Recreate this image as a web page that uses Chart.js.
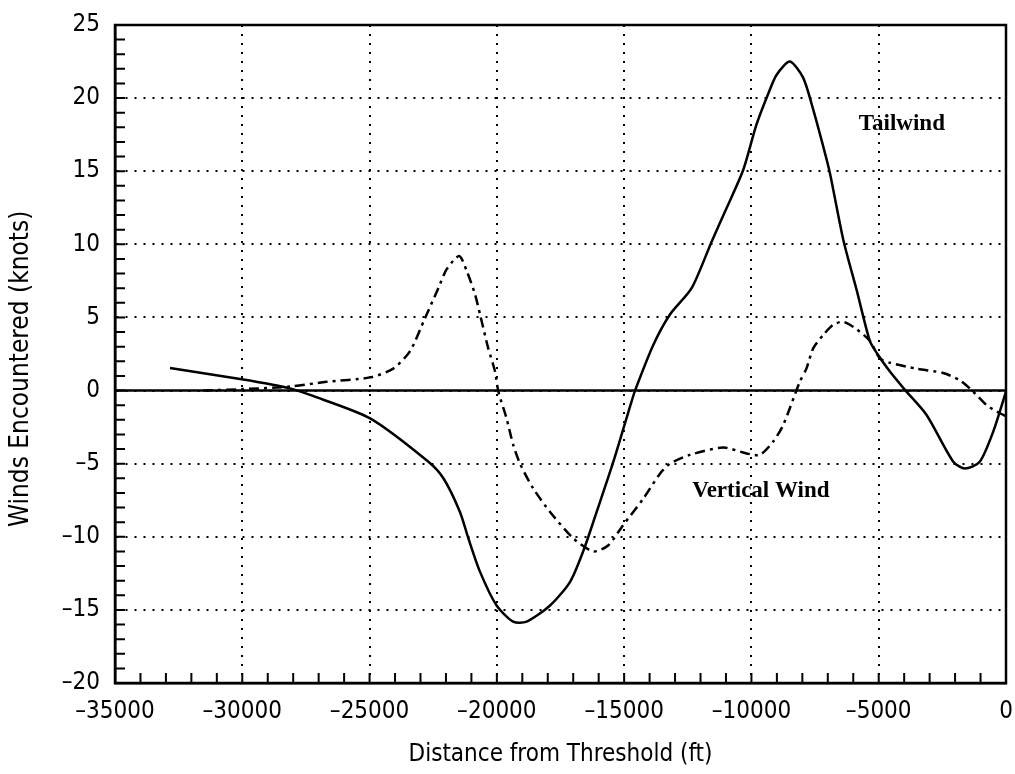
<!DOCTYPE html>
<html>
<head>
<meta charset="utf-8">
<script src="https://cdn.jsdelivr.net/npm/chart.js@4"></script>
<style>
  html, body { margin: 0; padding: 0; background: #fff; }
</style>
</head>
<body>
<canvas id="winds" width="1015" height="774"></canvas>
<script>
// distance from threshold (ft) and winds (knots)
const tailX = [-32840, -29960, -28130, -27340, -24980, -22700, -22100, -21450, -21120, -20660,
  -20010, -19360, -18830, -17910, -17130, -16610, -16080, -15430, -14710, -14540,
  -13860, -13200, -12350, -11560, -10970, -10320, -9800, -9340, -9010, -8490,
  -7970, -7570, -7180, -6920, -6390, -5870, -5350, -5030, -4560, -3970,
  -3120, -2070, -1610, -1030, -500, 0];
const tailY = [1.55, 0.75, 0.15, -0.3, -1.9, -4.85, -6.0, -8.3, -10.1, -12.4,
  -14.7, -15.8, -15.8, -14.7, -13.1, -11.0, -8.3, -4.9, -0.75, 0.15,
  3.1, 5.2, 7.0, 10.2, 12.5, 15.1, 18.2, 20.3, 21.6, 22.5,
  21.4, 19.2, 16.7, 14.9, 10.3, 6.9, 3.4, 2.45, 1.3, 0.05,
  -1.67, -4.87, -5.33, -4.87, -2.8, -0.07];

const vertX = [-31540, -29970, -28130, -26690, -24980, -24070, -23410, -22820, -22300, -21970,
  -21480, -21190, -20860, -20660, -20340, -20070, -19940, -19620, -19360, -19090,
  -18570, -17910, -17000, -16210, -15630, -15040, -14250, -13600, -13200, -12420,
  -11110, -10190, -9670, -9150, -8750, -8100, -7840, -7570, -7180, -6790,
  -6390, -5870, -5350, -4950, -4560, -3520, -2470, -1810, -1290, -760,
  -240, 0];
const vertY = [0.0, 0.1, 0.27, 0.6, 0.9, 1.5, 2.7, 4.96, 7.0, 8.3,
  9.2, 8.2, 6.6, 5.2, 2.9, 1.3, -0.07, -1.9, -3.7, -5.0,
  -6.7, -8.3, -10.1, -11.0, -10.6, -9.2, -7.4, -5.7, -5.0, -4.4,
  -3.9, -4.3, -4.4, -3.5, -2.35, 0.6, 1.5, 2.9, 3.8, 4.5,
  4.7, 4.2, 3.4, 2.2, 1.9, 1.5, 1.2, 0.7, -0.07, -1.0,
  -1.55, -1.75];

const xTicks = { min: -35000, max: 0, step: 5000, minor: 1000 };
const yTicks = { min: -20, max: 25, step: 5, minor: 1 };

// curve labels: [text, x, y]
const labels = [
  ['Tailwind', -4090, 18.2],
  ['Vertical Wind', -9630, -6.85]
];

const plotFont = '"DejaVu Sans Condensed", "DejaVu Sans", sans-serif';

function toPoints(xs, ys) {
  return xs.map((x, i) => ({ x: x, y: ys[i] }));
}

function fmt(v) {
  return v < 0 ? '\u2013' + Math.abs(v) : String(v);
}

const framePlugin = {
  id: 'frame',
  beforeDatasetsDraw(chart) {
    const { ctx, chartArea: a, scales } = chart;
    // solid zero line
    const y0 = scales.y.getPixelForValue(0);
    ctx.save();
    ctx.strokeStyle = '#000';
    ctx.lineWidth = 2.5;
    ctx.beginPath();
    ctx.moveTo(a.left, y0);
    ctx.lineTo(a.right, y0);
    ctx.stroke();
    ctx.restore();
  },
  afterDraw(chart) {
    const { ctx, chartArea: a, scales } = chart;
    ctx.save();
    ctx.strokeStyle = '#000';
    ctx.lineWidth = 2.5;
    ctx.strokeRect(a.left, a.top, a.right - a.left, a.bottom - a.top);

    // inward minor ticks on left and bottom axes
    ctx.lineWidth = 2;
    ctx.beginPath();
    for (let v = xTicks.min + xTicks.minor; v < xTicks.max; v += xTicks.minor) {
      const px = scales.x.getPixelForValue(v);
      ctx.moveTo(px, a.bottom);
      ctx.lineTo(px, a.bottom - 10);
    }
    for (let v = yTicks.min + yTicks.minor; v < yTicks.max; v += yTicks.minor) {
      const py = scales.y.getPixelForValue(v);
      ctx.moveTo(a.left, py);
      ctx.lineTo(a.left + 10, py);
    }
    ctx.stroke();

    ctx.fillStyle = '#000';
    ctx.font = 'bold 23px "Liberation Serif", "DejaVu Serif", serif';
    ctx.textAlign = 'center';
    ctx.textBaseline = 'middle';
    labels.forEach(([t, x, y]) => {
      ctx.fillText(t, scales.x.getPixelForValue(x), scales.y.getPixelForValue(y));
    });
    ctx.restore();
  }
};

new Chart(document.getElementById('winds').getContext('2d'), {
  type: 'line',
  data: {
    datasets: [{
      label: 'Tailwind',
      data: toPoints(tailX, tailY),
      borderColor: '#000',
      borderWidth: 2.5,
      pointRadius: 0,
      tension: 0.25
    }, {
      label: 'Vertical Wind',
      data: toPoints(vertX, vertY),
      borderColor: '#000',
      borderWidth: 2.5,
      borderDash: [10, 5, 3, 5],
      pointRadius: 0,
      tension: 0.25
    }]
  },
  options: {
    responsive: false,
    animation: false,
    layout: { padding: { top: 25, right: 9, left: 0, bottom: 0 } },
    plugins: {
      legend: { display: false },
      tooltip: { enabled: false }
    },
    scales: {
      x: {
        type: 'linear',
        min: xTicks.min,
        max: xTicks.max,
        afterFit(scale) {
          scale.height = 91;
          scale.paddingLeft = 0;
          scale.paddingRight = 0;
        },
        ticks: {
          stepSize: xTicks.step,
          color: '#000',
          padding: 14,
          maxRotation: 0,
          font: { family: plotFont, size: 24 },
          callback: fmt
        },
        grid: {
          drawTicks: false,
          color: '#000',
          lineWidth: 2
        },
        border: { color: '#000', width: 2.5, dash: [2, 7] },
        title: {
          display: true,
          text: 'Distance from Threshold (ft)',
          color: '#000',
          font: { family: plotFont, size: 24, lineHeight: 1 },
          padding: { top: 0, bottom: 7 }
        }
      },
      y: {
        min: yTicks.min,
        max: yTicks.max,
        afterFit(scale) {
          scale.width = 115;
          scale.paddingTop = 0;
          scale.paddingBottom = 0;
        },
        ticks: {
          stepSize: yTicks.step,
          color: '#000',
          padding: 15,
          font: { family: plotFont, size: 24 },
          callback: fmt
        },
        grid: {
          drawTicks: false,
          color: '#000',
          lineWidth: 2
        },
        border: { color: '#000', width: 2.5, dash: [2, 7] },
        title: {
          display: true,
          text: 'Winds Encountered (knots)    ',
          color: '#000',
          font: { family: plotFont, size: 26, lineHeight: 1 },
          padding: { top: 8, bottom: 0 }
        }
      }
    }
  },
  plugins: [framePlugin]
});
</script>
</body>
</html>
